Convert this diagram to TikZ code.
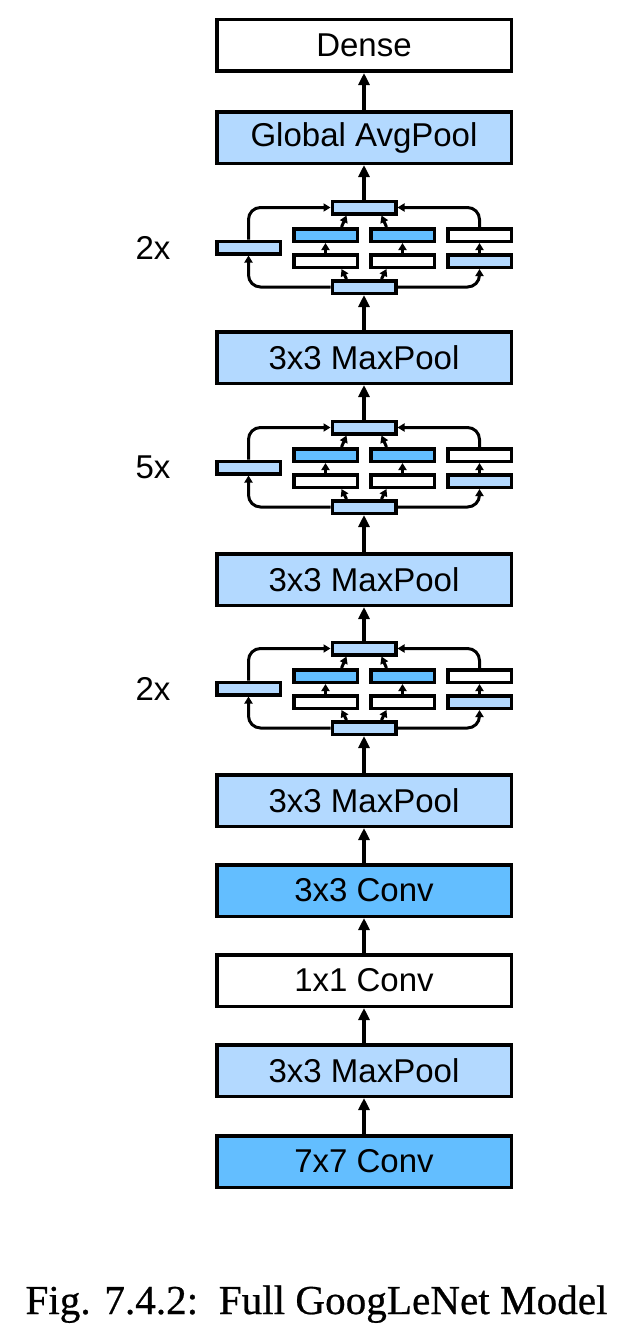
\documentclass[tikz,border=0pt]{standalone}
\usepackage{graphicx}
\usepackage{fontspec}
\setmainfont{Liberation Sans}
\newfontfamily\capfont[FakeBold=0.6]{Liberation Serif}
\usetikzlibrary{arrows.meta}
\definecolor{lb}{RGB}{179,217,255}
\definecolor{db}{RGB}{99,190,255}
\tikzset{
  big/.style={draw, line width=3.5pt, minimum width=294.5pt, minimum height=51.5pt, inner sep=0pt, font=\fontsize{33}{38}\selectfont},
  sm/.style={draw, line width=3.5pt, minimum width=63.5pt, minimum height=12.5pt, inner sep=0pt},
  arr/.style={line width=3.2pt, -{Triangle[length=12pt,width=11pt]}},
  sarr/.style={line width=3pt, -{Triangle[length=7pt,width=8pt]}, rounded corners=12pt},
  lab/.style={font=\fontsize{33}{38}\selectfont, inner sep=0pt},
}
\newcommand\incep[3]{%
  \node[sm,fill=lb] (#1c) at (364,{#2+7.5}) {};
  \node[sm,fill=db] (#1a1) at (325.5,{#2+35}) {};
  \node[sm,fill=db] (#1a2) at (402.5,{#2+35}) {};
  \node[sm] (#1a3) at (479.5,{#2+35}) {};
  \node[sm] (#1b1) at (325.5,{#2+61}) {};
  \node[sm] (#1b2) at (402.5,{#2+61}) {};
  \node[sm,fill=lb] (#1b3) at (479.5,{#2+61}) {};
  \node[sm,fill=lb] (#1l) at (248.5,{#2+47.5}) {};
  \node[sm,fill=lb] (#1d) at (364,{#2+87}) {};
  \node[lab] (#1lab) at (153,{#2+47.5}) {#3};
  \draw[sarr] (#1d.west) -| (#1l.south);
  \draw[sarr] (#1d.east) -| (#1b3.south);
  \draw[sarr] (#1l.north) |- (#1c.west);
  \draw[sarr] (#1a3.north) |- (#1c.east);
  \draw[sarr] (#1b1.north) -- (#1a1.south);
  \draw[sarr] (#1b2.north) -- (#1a2.south);
  \draw[sarr] (#1b3.north) -- (#1a3.south);
  \draw[sarr] ([xshift=16pt]#1d.north west) -- ([xshift=-17.5pt]#1b1.south east);
  \draw[sarr] ([xshift=-16pt]#1d.north east) -- ([xshift=17.5pt]#1b2.south west);
  \draw[sarr] ([xshift=-17.5pt]#1a1.north east) -- ([xshift=16pt]#1c.south west);
  \draw[sarr] ([xshift=17.5pt]#1a2.north west) -- ([xshift=-16pt]#1c.south east);
}
\begin{document}
\begin{tikzpicture}[x=1pt,y=-1pt]
\useasboundingbox[fill=white] (0,0) rectangle (634,1338);
\node[big] (dense) at (364,45.5) {Dense};
\node[big,fill=lb] (gap) at (364,137.5) {Global AvgPool};
\incep{i1}{200}{2x}
\node[big,fill=lb] (mp1) at (364,357.5) {3x3 MaxPool};
\incep{i2}{420}{5x}
\node[big,fill=lb] (mp2) at (364,579.5) {3x3 MaxPool};
\incep{i3}{641}{2x}
\node[big,fill=lb] (mp3) at (364,800.5) {3x3 MaxPool};
\node[big,fill=db] (c3) at (364,890.5) {3x3 Conv};
\node[big] (c1) at (364,980.5) {1x1 Conv};
\node[big,fill=lb] (mp4) at (364,1070.5) {3x3 MaxPool};
\node[big,fill=db] (c7) at (364,1161.5) {7x7 Conv};
\draw[arr] (gap.north) -- (dense.south);
\draw[arr] (i1c.north) -- (gap.south);
\draw[arr] (mp1.north) -- (i1d.south);
\draw[arr] (i2c.north) -- (mp1.south);
\draw[arr] (mp2.north) -- (i2d.south);
\draw[arr] (i3c.north) -- (mp2.south);
\draw[arr] (mp3.north) -- (i3d.south);
\draw[arr] (c3.north) -- (mp3.south);
\draw[arr] (c1.north) -- (c3.south);
\draw[arr] (mp4.north) -- (c1.south);
\draw[arr] (c7.north) -- (mp4.south);
\node[anchor=base, inner sep=0pt] (cap) at (316.5,1314) {\resizebox{582pt}{!}{\capfont Fig. 7.4.2:\ \ Full GoogLeNet Model}};
\end{tikzpicture}
\end{document}
